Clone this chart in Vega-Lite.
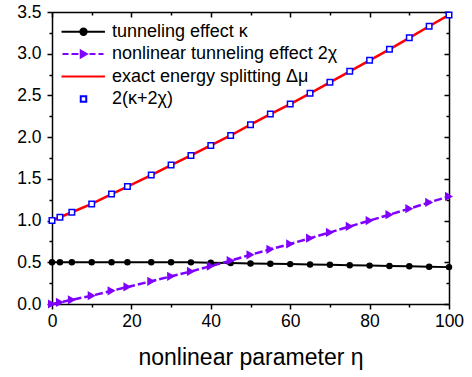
{
  "$schema": "https://vega.github.io/schema/vega-lite/v6.json",
  "width": 397,
  "height": 292,
  "autosize": {"type": "none"},
  "padding": {"left": 52, "top": 12, "right": 23, "bottom": 73},
  "background": "white",
  "config": {
    "view": {"stroke": null},
    "font": "Liberation Sans",
    "axis": {
      "labelFont": "Liberation Sans",
      "titleFont": "Liberation Sans",
      "domainColor": "black",
      "tickColor": "black",
      "labelColor": "black",
      "titleColor": "black",
      "grid": false,
      "domainWidth": 1.5,
      "tickWidth": 1.5,
      "labelFlush": false,
      "labelOverlap": false
    },
    "legend": {
      "orient": "none", "legendX": 22.5, "legendY": 10.7, "padding": 0,
      "labelFont": "Liberation Sans", "labelFontSize": 18, "labelColor": "black", "labelLimit": 500,
      "symbolSize": 121, "labelOffset": 19.5, "rowPadding": 4.4, "symbolStrokeWidth": 2
    }
  },
  "data": {
    "values": [
      {"eta": 0, "a": 0.5, "b": 0.0, "c": 1.0, "d": 1.0},
      {"eta": 2, "a": 0.5, "b": 0.02, "c": 1.04, "d": 1.04},
      {"eta": 5, "a": 0.5, "b": 0.05, "c": 1.1, "d": 1.1},
      {"eta": 10, "a": 0.5, "b": 0.1, "c": 1.2, "d": 1.2},
      {"eta": 15, "a": 0.5, "b": 0.158, "c": 1.317, "d": 1.317},
      {"eta": 19, "a": 0.5, "b": 0.204, "c": 1.408, "d": 1.408},
      {"eta": 25, "a": 0.5, "b": 0.272, "c": 1.545, "d": 1.545},
      {"eta": 30, "a": 0.5, "b": 0.332, "c": 1.665, "d": 1.665},
      {"eta": 35, "a": 0.499, "b": 0.39, "c": 1.78, "d": 1.78},
      {"eta": 40, "a": 0.495, "b": 0.455, "c": 1.9, "d": 1.9},
      {"eta": 45, "a": 0.49, "b": 0.52, "c": 2.02, "d": 2.02},
      {"eta": 50, "a": 0.486, "b": 0.59, "c": 2.149, "d": 2.149},
      {"eta": 55, "a": 0.482, "b": 0.656, "c": 2.277, "d": 2.277},
      {"eta": 60, "a": 0.478, "b": 0.72, "c": 2.397, "d": 2.397},
      {"eta": 65, "a": 0.474, "b": 0.789, "c": 2.525, "d": 2.525},
      {"eta": 70, "a": 0.47, "b": 0.858, "c": 2.657, "d": 2.657},
      {"eta": 75, "a": 0.465, "b": 0.93, "c": 2.789, "d": 2.789},
      {"eta": 80, "a": 0.46, "b": 1.0, "c": 2.921, "d": 2.921},
      {"eta": 85, "a": 0.456, "b": 1.07, "c": 3.053, "d": 3.053},
      {"eta": 90, "a": 0.452, "b": 1.143, "c": 3.19, "d": 3.19},
      {"eta": 95, "a": 0.447, "b": 1.217, "c": 3.329, "d": 3.329},
      {"eta": 100, "a": 0.442, "b": 1.29, "c": 3.465, "d": 3.465}
    ]
  },
  "resolve": {"axis": {"x": "independent", "y": "independent"}},
  "layer": [
    {
      "mark": {"type": "line", "color": "#ff0000", "strokeWidth": 2.5},
      "encoding": {
        "x": {"field": "eta", "type": "quantitative", "scale": {"domain": [0, 100], "nice": false, "zero": false},
          "axis": {"orient": "bottom", "values": [0, 20, 40, 60, 80, 100], "tickSize": 5, "labelFontSize": 17.5, "labelPadding": 3,
            "title": "nonlinear parameter η", "titleFontSize": 23, "titleFontWeight": "normal", "titlePadding": 17}},
        "y": {"field": "c", "type": "quantitative", "scale": {"domain": [0, 3.5], "nice": false, "zero": false},
          "axis": {"orient": "left", "values": [0, 0.5, 1, 1.5, 2, 2.5, 3, 3.5], "format": ".1f", "tickSize": 5, "labelFontSize": 17.5, "labelPadding": 6, "title": null}}
      }
    },
    {
      "mark": {"type": "line", "color": "black", "strokeWidth": 2},
      "encoding": {
        "x": {"field": "eta", "type": "quantitative", "scale": {"domain": [0, 100], "nice": false, "zero": false},
          "axis": {"orient": "bottom", "values": [10, 30, 50, 70, 90], "tickSize": 3, "labels": false, "domain": false, "title": null}},
        "y": {"field": "a", "type": "quantitative", "scale": {"domain": [0, 3.5], "nice": false, "zero": false},
          "axis": {"orient": "left", "values": [0.25, 0.75, 1.25, 1.75, 2.25, 2.75, 3.25], "tickSize": 3, "labels": false, "domain": false, "title": null}}
      }
    },
    {
      "mark": {"type": "line", "color": "#8000ff", "strokeWidth": 2.5, "strokeDash": [8, 3]},
      "encoding": {
        "x": {"field": "eta", "type": "quantitative", "scale": {"domain": [0, 100], "nice": false, "zero": false},
          "axis": {"orient": "top", "values": [0, 20, 40, 60, 80, 100], "tickSize": -5, "labels": false, "domain": true, "title": null}},
        "y": {"field": "b", "type": "quantitative", "scale": {"domain": [0, 3.5], "nice": false, "zero": false},
          "axis": {"orient": "right", "values": [0, 0.5, 1, 1.5, 2, 2.5, 3, 3.5], "tickSize": -5, "labels": false, "domain": true, "title": null}}
      }
    },
    {
      "mark": {"type": "point", "shape": "circle", "filled": true, "color": "black", "size": 42, "opacity": 1},
      "encoding": {
        "x": {"field": "eta", "type": "quantitative", "scale": {"domain": [0, 100], "nice": false, "zero": false},
          "axis": {"orient": "top", "values": [10, 30, 50, 70, 90], "tickSize": -3, "labels": false, "domain": false, "title": null}},
        "y": {"field": "a", "type": "quantitative", "scale": {"domain": [0, 3.5], "nice": false, "zero": false},
          "axis": {"orient": "right", "values": [0.25, 0.75, 1.25, 1.75, 2.25, 2.75, 3.25], "tickSize": -3, "labels": false, "domain": false, "title": null}}
      }
    },
    {
      "mark": {"type": "point", "shape": "triangle-right", "filled": true, "color": "#8000ff", "size": 85, "opacity": 1},
      "encoding": {
        "x": {"field": "eta", "type": "quantitative", "scale": {"domain": [0, 100], "nice": false, "zero": false}, "axis": null},
        "y": {"field": "b", "type": "quantitative", "scale": {"domain": [0, 3.5], "nice": false, "zero": false}, "axis": null}
      }
    },
    {
      "transform": [{"fold": ["d"], "as": ["s", "v"]}],
      "mark": {"type": "point", "filled": false, "size": 121, "strokeWidth": 1.5, "opacity": 1},
      "encoding": {
        "x": {"field": "eta", "type": "quantitative", "scale": {"domain": [0, 100], "nice": false, "zero": false}, "axis": null},
        "y": {"field": "v", "type": "quantitative", "scale": {"domain": [0, 3.5], "nice": false, "zero": false}, "axis": null},
        "stroke": {
          "field": "s", "type": "nominal",
          "scale": {"domain": ["a", "b", "c", "d"], "range": ["black", "#8000ff", "#ff0000", "#0000ff"]},
          "legend": {"title": null, "labelExpr": "datum.value === 'a' ? 'tunneling effect κ' : datum.value === 'b' ? 'nonlinear tunneling effect 2χ' : datum.value === 'c' ? 'exact energy splitting Δμ' : '2(κ+2χ)'"}
        },
        "fill": {
          "field": "s", "type": "nominal",
          "scale": {"domain": ["a", "b", "c", "d"], "range": ["black", "#8000ff", "transparent", "white"]},
          "legend": {"title": null, "labelExpr": "datum.value === 'a' ? 'tunneling effect κ' : datum.value === 'b' ? 'nonlinear tunneling effect 2χ' : datum.value === 'c' ? 'exact energy splitting Δμ' : '2(κ+2χ)'"}
        },
        "shape": {
          "field": "s", "type": "nominal",
          "scale": {"domain": ["a", "b", "c", "d"], "range": [
            "M-4,0H3.9M-0.58,0A0.58,0.58 0 1 1 0.58,0A0.58,0.58 0 1 1 -0.58,0Z",
            "M-3.82,0H-2.73M-2.18,0H-0.91M-0.5,-0.64L0.6,0L-0.5,0.64ZM1.09,0H2.18M2.73,0H3.64",
            "M-4,0H3.9",
            "M-0.5,-0.5H0.5V0.5H-0.5Z"
          ]},
          "legend": {"title": null, "labelExpr": "datum.value === 'a' ? 'tunneling effect κ' : datum.value === 'b' ? 'nonlinear tunneling effect 2χ' : datum.value === 'c' ? 'exact energy splitting Δμ' : '2(κ+2χ)'"}
        }
      }
    }
  ]
}
